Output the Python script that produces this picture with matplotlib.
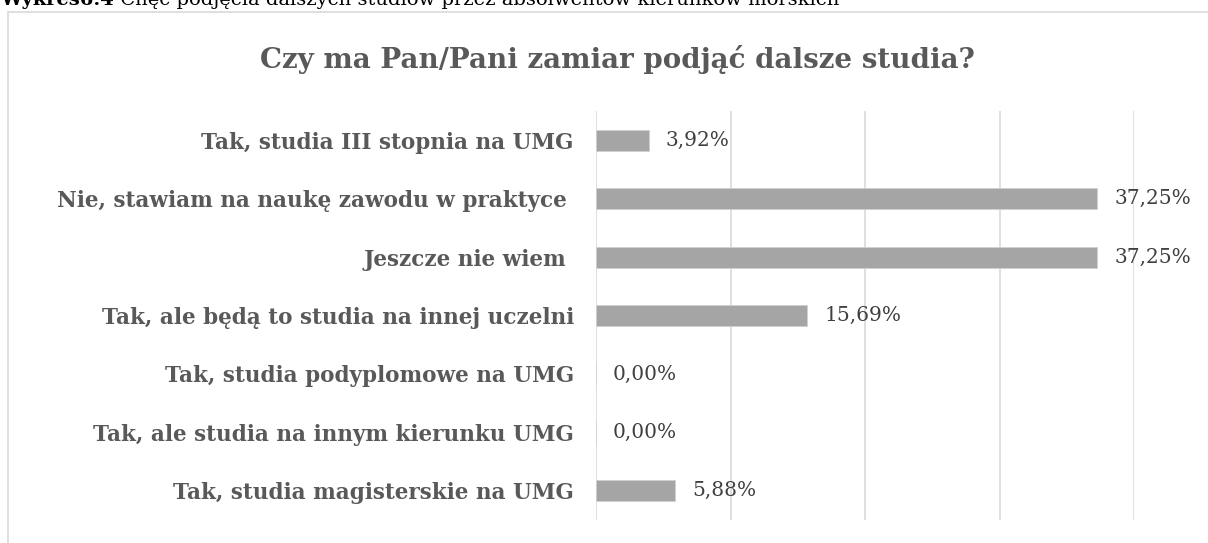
import matplotlib
matplotlib.use("Agg")
import matplotlib.pyplot as plt
from matplotlib.patches import Rectangle

categories = [
    "Tak, studia III stopnia na UMG",
    "Nie, stawiam na naukę zawodu w praktyce ",
    "Jeszcze nie wiem ",
    "Tak, ale będą to studia na innej uczelni",
    "Tak, studia podyplomowe na UMG",
    "Tak, ale studia na innym kierunku UMG",
    "Tak, studia magisterskie na UMG",
]
values = [3.92, 37.25, 37.25, 15.69, 0.00, 0.00, 5.88]
xticks = [0, 10, 20, 30, 40]

title = "Czy ma Pan/Pani zamiar podjąć dalsze studia?"
caption_bold = "Wykres6.4"
caption_rest = " Chęć podjęcia dalszych studiów przez absolwentów kierunków morskich"

W, H = 1208, 543
fig = plt.figure(figsize=(W / 100, H / 100), dpi=100)
fig.patch.set_facecolor("white")

# chart frame
fig.add_artist(Rectangle((8 / W, -0.05), 1.2, (H - 12) / H + 0.05, transform=fig.transFigure,
                         fill=False, edgecolor="#d9d9d9", linewidth=1.2))

ax = fig.add_axes([596 / W, 1 - 520 / H, (1134 - 596) / W, (520 - 111) / H])
y = list(range(len(categories)))
ax.barh(y, values, height=0.36, color="#a5a5a5", edgecolor="#d0d0d0", linewidth=0.6, zorder=3)
ax.set_xlim(0, 40)
ax.set_ylim(len(categories) - 0.5, -0.5)
ax.set_xticks(xticks)
ax.set_xticklabels([])
ax.tick_params(axis="x", length=0)
ax.set_yticks(y)
ax.set_yticklabels(categories, fontfamily="DejaVu Serif", fontweight="bold", fontsize=15.5,
                   color="#595959")
ax.tick_params(axis="y", length=0, pad=16)
ax.grid(axis="x", color="#d9d9d9", linewidth=1.2, zorder=0)
for s in ax.spines.values():
    s.set_visible(False)

for yi, v in zip(y, values):
    ax.annotate(f"{v:.2f}%".replace(".", ","), xy=(v, yi), xytext=(17, 0),
                textcoords="offset pixels",
                va="center", ha="left", fontfamily="DejaVu Serif", fontsize=14.5,
                color="#404040", zorder=4)

fig.text(617 / W, 1 - 60 / H, title, ha="center", va="center", fontfamily="DejaVu Serif",
         fontweight="bold", fontsize=20, color="#595959")

t1 = fig.text(0, 1 - 5 / H, caption_bold, ha="left", va="baseline", fontfamily="DejaVu Serif",
              fontweight="bold", fontsize=14, color="black")
fig.canvas.draw()
bb = t1.get_window_extent()
fig.text(bb.x1 / W, 1 - 5 / H, caption_rest, ha="left", va="baseline", fontfamily="DejaVu Serif",
         fontsize=14, color="black")

fig.savefig("out.png", dpi=100, facecolor="white")
